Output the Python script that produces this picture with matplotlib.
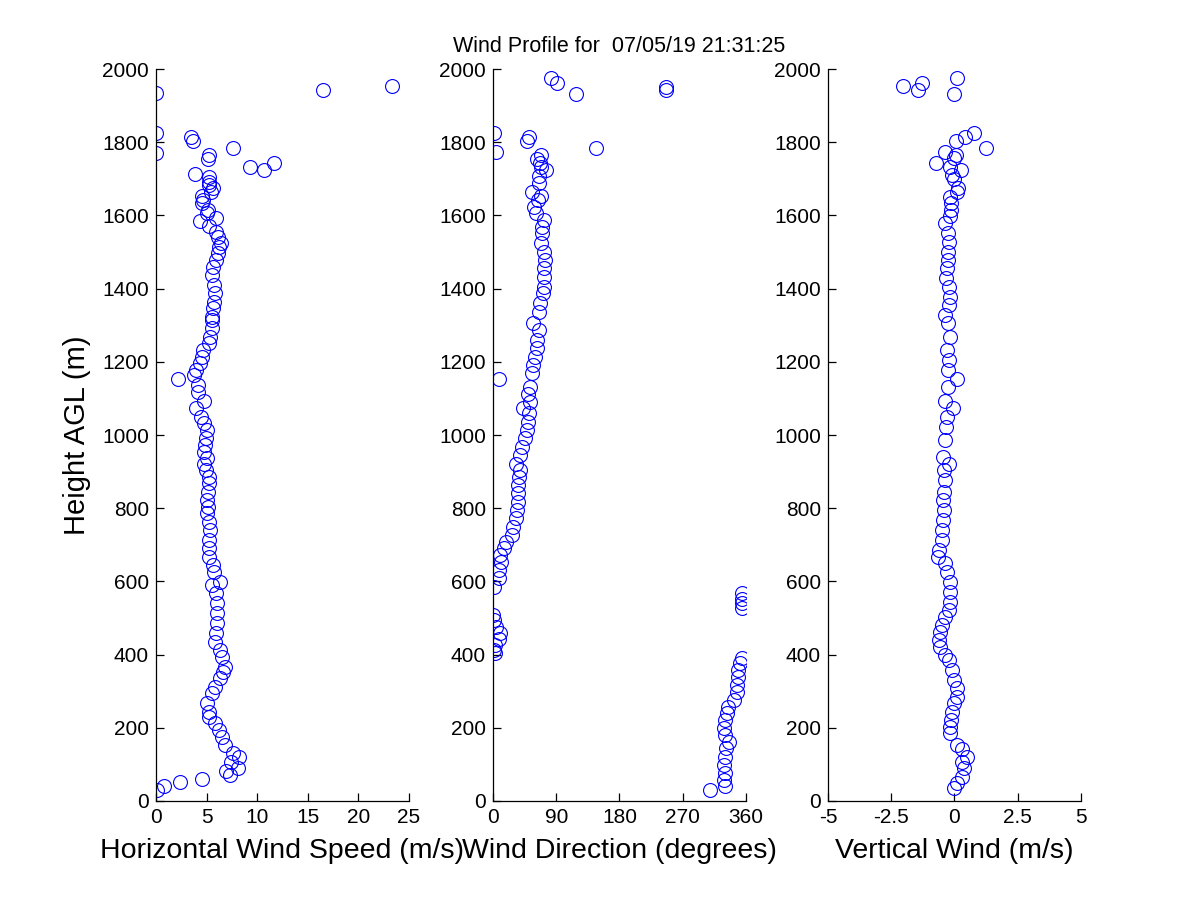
import numpy as np
import matplotlib
matplotlib.use("Agg")
import matplotlib.pyplot as plt

plt.rcParams['font.family'] = ['Liberation Sans', 'DejaVu Sans']

# horizontal wind speed (m/s) vs height (m)
spd_h = [1953, 1944, 1934, 1824, 1815, 1802, 1783, 1771, 1766, 1754, 1742, 1733, 1723,
         1712, 1704, 1692, 1683, 1674, 1665, 1653, 1642, 1633, 1615, 1606, 1592, 1584,
         1572, 1555, 1542, 1525, 1513, 1498, 1478, 1460, 1437, 1410, 1387, 1364, 1346,
         1323, 1314, 1292, 1269, 1251, 1232, 1214, 1196, 1178, 1164, 1152, 1137, 1118,
         1093, 1073, 1050, 1032, 1014, 991, 973, 954, 936, 922, 904, 886, 868, 845, 822,
         804, 786, 763, 740, 713, 690, 667, 645, 627, 599, 590, 567, 540, 513, 486, 458,
         435, 413, 394, 367, 353, 335, 312, 294, 267, 244, 230, 212, 194, 176, 153, 130,
         119, 107, 89, 82, 71, 59, 51, 41, 30]
spd = [23.3, 16.5, 0.0, 0.0, 3.5, 3.7, 7.6, 0.0, 5.2, 5.1, 11.7, 9.3, 10.7,
       3.9, 5.2, 5.2, 5.2, 5.6, 5.4, 4.5, 4.6, 4.5, 5.1, 5.0, 5.9, 4.3,
       5.2, 5.9, 6.1, 6.4, 6.2, 6.1, 5.9, 5.6, 5.5, 5.7, 5.8, 5.7, 5.6,
       5.5, 5.5, 5.5, 5.3, 5.2, 4.6, 4.5, 4.3, 4.0, 3.8, 2.2, 4.2, 4.2,
       4.7, 4.0, 4.4, 4.7, 5.0, 4.9, 4.8, 4.7, 5.0, 4.7, 4.9, 5.2, 5.2, 5.1, 5.0,
       5.1, 5.0, 5.2, 5.3, 5.2, 5.2, 5.2, 5.6, 5.7, 6.3, 5.5, 5.9, 6.0, 6.0, 6.0, 5.9,
       5.8, 6.3, 6.5, 6.8, 6.6, 6.3, 5.8, 5.5, 5.0, 5.2, 5.2, 5.8, 6.2, 6.5, 6.8, 7.6,
       8.2, 7.4, 8.1, 6.9, 7.3, 4.5, 2.4, 0.8, 0.1]

# wind direction (degrees) vs height (m)
dir_h = [1975, 1963, 1952, 1944, 1933, 1824, 1813, 1802, 1783, 1772, 1766, 1754, 1742,
         1733, 1724, 1708, 1688, 1663, 1653, 1642, 1622, 1607, 1587, 1569, 1551, 1524,
         1501, 1478, 1455, 1433, 1405, 1387, 1360, 1337, 1305, 1287, 1260, 1237, 1214,
         1191, 1169, 1152, 1132, 1113, 1091, 1073, 1059, 1036, 1014, 991, 968, 945, 922,
         904, 886, 863, 841, 818, 795, 772, 750, 727, 708, 690, 672, 654, 631, 608, 585,
         567, 553, 540, 526, 508, 495, 476, 460, 444, 426, 413, 404, 390, 376, 358, 340,
         317, 299, 276, 258, 240, 221, 199, 180, 162, 144, 121, 98, 76, 57, 41, 30]
wdir = [82, 91, 246, 246, 118, 2, 51, 49, 147, 5, 68, 63, 67,
        69, 76, 66, 66, 55, 68, 64, 59, 61, 72, 70, 70, 69,
        72, 74, 73, 73, 72, 71, 67, 65, 57, 65, 63, 62, 60,
        57, 56, 8, 53, 50, 53, 43, 52, 50, 48, 45, 41, 39, 33,
        39, 37, 36, 36, 35, 34, 33, 29, 27, 19, 15, 10, 12, 8, 8, 2,
        354, 355, 354, 355, 0, 1, 5, 10, 8, 3, 1, 3, 354, 351, 349, 349,
        347, 347, 343, 335, 333, 330, 329, 330, 336, 332, 330, 329, 330, 329, 330, 309]

# vertical wind (m/s) vs height (m)
w_h = [1975, 1963, 1953, 1944, 1933, 1826, 1813, 1802, 1783, 1772, 1765, 1756, 1742,
       1733, 1724, 1710, 1699, 1676, 1665, 1651, 1633, 1615, 1598, 1578, 1551, 1528,
       1501, 1478, 1455, 1428, 1405, 1378, 1355, 1328, 1305, 1269, 1232, 1205, 1178,
       1152, 1132, 1093, 1073, 1050, 1022, 986, 941, 922, 904, 877, 845, 822, 795, 768,
       740, 713, 686, 667, 649, 627, 599, 572, 545, 522, 503, 481, 463, 440, 420, 399,
       385, 358, 331, 308, 285, 267, 244, 221, 203, 185, 153, 141, 121, 107, 89, 66,
       50, 35]
w = [0.08, -1.28, -2.04, -1.46, -0.03, 0.77, 0.41, 0.07, 1.26, -0.38, 0.07, -0.03, -0.75,
     -0.16, 0.24, -0.09, 0.0, 0.13, 0.11, -0.19, -0.13, -0.13, -0.16, -0.36, -0.25, -0.22,
     -0.26, -0.25, -0.29, -0.34, -0.22, -0.19, -0.22, -0.36, -0.26, -0.16, -0.29, -0.22, -0.25,
     0.11, -0.26, -0.36, -0.05, -0.29, -0.33, -0.38, -0.45, -0.22, -0.42, -0.36, -0.42, -0.45,
     -0.42, -0.45, -0.49, -0.49, -0.62, -0.65, -0.36, -0.29, -0.19, -0.16, -0.16, -0.22, -0.36,
     -0.49, -0.58, -0.62, -0.56, -0.36, -0.22, -0.09, -0.03, 0.11, 0.11, 0.0, -0.09, -0.13,
     -0.16, -0.16, 0.11, 0.30, 0.50, 0.30, 0.37, 0.30, 0.11, 0.0]

title_txt = 'Wind Profile for  07/05/19 21:31:25'

fig = plt.figure(figsize=(12, 9), dpi=100)
panels = [
    (0.13, spd, spd_h, (0, 25), [0, 5, 10, 15, 20, 25], ['0', '5', '10', '15', '20', '25'],
     'Horizontal Wind Speed (m/s)'),
    (0.4108, wdir, dir_h, (0, 360), [0, 90, 180, 270, 360], ['0', '90', '180', '270', '360'],
     'Wind Direction (degrees)'),
    (0.69, w, w_h, (-5, 5), [-5, -2.5, 0, 2.5, 5], ['-5', '-2.5', '0', '2.5', '5'],
     'Vertical Wind (m/s)'),
]

axes = []
for left, xv, hv, xl, xt, xtl, lab in panels:
    ax = fig.add_axes([left, 0.11, 0.2108, 0.8133])
    ax.plot(xv, hv, 'o', ms=10, mfc='none', mec='#0000ff', mew=0.8)
    ax.set_xlim(*xl)
    ax.set_ylim(0, 2000)
    ax.set_xticks(xt)
    ax.set_xticklabels(xtl)
    ax.set_yticks(range(0, 2001, 200))
    ax.spines['top'].set_visible(False)
    ax.spines['right'].set_visible(False)
    for s in ('left', 'bottom'):
        ax.spines[s].set_linewidth(0.9)
    ax.tick_params(direction='in', length=6, width=0.9, labelsize=15, pad=5)
    ax.set_xlabel(lab, fontsize=20.5, labelpad=8)
    axes.append(ax)

axes[0].set_ylabel('Height AGL (m)', fontsize=21, labelpad=8)
axes[1].set_title(title_txt, fontsize=15.5, pad=12)

fig.savefig('out.png', dpi=100)
